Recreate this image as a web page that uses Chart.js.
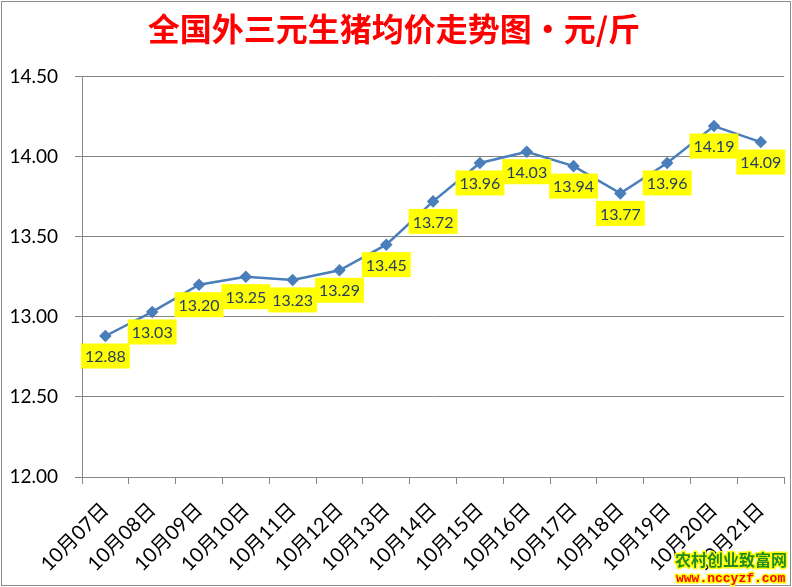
<!DOCTYPE html>
<html>
<head>
<meta charset="utf-8">
<script src="https://cdn.jsdelivr.net/npm/chart.js@4"></script>
<style>
  html, body { margin: 0; padding: 0; background: #fff; }
  #wrap { width: 792px; height: 587px; position: relative; }
</style>
</head>
<body>
<div id="wrap"><canvas id="priceChart"></canvas></div>
<script>
// 日期
const dates = ["10月07日", "10月08日", "10月09日", "10月10日", "10月11日", "10月12日", "10月13日", "10月14日",
  "10月15日", "10月16日", "10月17日", "10月18日", "10月19日", "10月20日", "10月21日"];
// 均价 元/斤
const prices = [12.88, 13.03, 13.20, 13.25, 13.23, 13.29, 13.45, 13.72, 13.96, 14.03, 13.94, 13.77, 13.96, 14.19, 14.09];

const titleText = "全国外三元生猪均价走势图・元/斤";

// yellow value boxes under each point
const valueBoxes = {
  id: "valueBoxes",
  afterDatasetsDraw(chart) {
    const ctx = chart.ctx;
    const meta = chart.getDatasetMeta(0);
    ctx.save();
    ctx.font = "16px Lato, 'Open Sans', sans-serif";
    ctx.textAlign = "center";
    ctx.textBaseline = "middle";
    meta.data.forEach((pt, i) => {
      const txt = prices[i].toFixed(2);
      const w = ctx.measureText(txt).width + 8;
      const h = 25;
      const cx = pt.x;
      const cy = pt.y + 20;
      ctx.fillStyle = "#FFFF00";
      ctx.fillRect(cx - w / 2, cy - h / 2, w, h);
      ctx.fillStyle = "#243F60";
      ctx.fillText(txt, cx, cy + 1);
    });
    ctx.restore();
  }
};

// frame + watermark
const frame = {
  id: "frame",
  afterDraw(chart) {
    const ctx = chart.ctx;
    ctx.save();
    ctx.strokeStyle = "#8C8C8C";
    ctx.lineWidth = 1;
    ctx.strokeRect(1.5, 1.5, chart.width - 3, chart.height - 3);

    ctx.lineJoin = "round";
    ctx.textAlign = "left";
    ctx.textBaseline = "alphabetic";
    ctx.font = "bold 16px 'Noto Sans CJK SC', sans-serif";
    ctx.strokeStyle = "#FFFF00";
    ctx.lineWidth = 3;
    ctx.strokeText("农村创业致富网", 675, 566);
    ctx.fillStyle = "#228B22";
    ctx.fillText("农村创业致富网", 675, 566);
    ctx.font = "bold 13px 'Liberation Mono', 'DejaVu Sans Mono', monospace";
    ctx.strokeText("www.nccyzf.com", 676, 582);
    ctx.fillStyle = "#FF0000";
    ctx.fillText("www.nccyzf.com", 676, 582);
    ctx.restore();
  }
};

new Chart(document.getElementById("priceChart"), {
  type: "line",
  data: {
    labels: dates,
    datasets: [{
      data: prices,
      borderColor: "#4A7EBB",
      backgroundColor: "#4A7EBB",
      borderWidth: 2.5,
      pointStyle: "rectRot",
      pointRadius: 4.5,
      pointHoverRadius: 4.5,
      tension: 0,
      fill: false
    }]
  },
  options: {
    responsive: true,
    maintainAspectRatio: false,
    animation: false,
    layout: { padding: { left: 0, right: 4, top: 0, bottom: 0 } },
    plugins: {
      legend: { display: false },
      tooltip: { enabled: false },
      title: {
        display: true,
        text: titleText,
        color: "#FF0000",
        font: { size: 32, weight: "bold", family: "'Noto Sans CJK SC', sans-serif", lineHeight: 1.2 },
        padding: { top: 10, bottom: 28 }
      }
    },
    scales: {
      y: {
        min: 12,
        max: 14.5,
        ticks: {
          stepSize: 0.5,
          color: "#000",
          font: { size: 19, family: "Lato, 'Open Sans', sans-serif" },
          padding: 17,
          callback: v => v.toFixed(2)
        },
        grid: { color: "#868686", lineWidth: 1, tickLength: 7, tickColor: "#868686" },
        border: { color: "#868686" },
        afterFit: s => { s.width = 82; }
      },
      x: {
        offset: true,
        ticks: {
          color: "#000",
          font: { size: 20, family: "Lato, 'Noto Sans CJK SC', sans-serif" },
          maxRotation: 45,
          minRotation: 45,
          autoSkip: false,
          padding: 14
        },
        grid: { offset: true, drawOnChartArea: false, tickLength: 7, color: "#868686" },
        border: { color: "#868686" },
        afterFit: s => { s.height = 110; }
      }
    }
  },
  plugins: [valueBoxes, frame]
});
</script>
</body>
</html>
